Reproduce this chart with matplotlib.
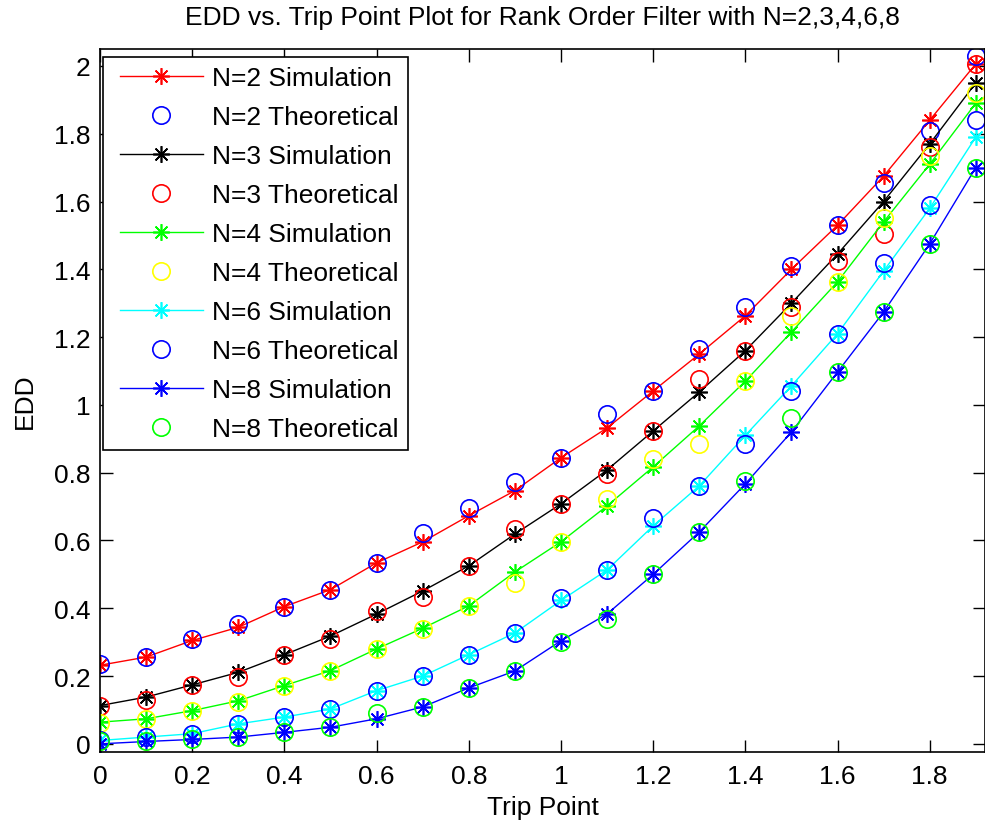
import numpy as np
import matplotlib
matplotlib.use('Agg')
import matplotlib.pyplot as plt
from matplotlib.ticker import FixedLocator, FuncFormatter
from matplotlib.legend_handler import HandlerLine2D
from matplotlib.lines import Line2D

plt.rcParams['font.family'] = ['Liberation Sans', 'DejaVu Sans']

# trip point values
trip = [0.0, 0.1, 0.2, 0.3, 0.4, 0.5, 0.6, 0.7, 0.8, 0.9,
        1.0, 1.1, 1.2, 1.3, 1.4, 1.5, 1.6, 1.7, 1.8, 1.9]

# EDD
n2_sim = [0.232, 0.256, 0.305, 0.344, 0.405, 0.455, 0.534, 0.596, 0.673, 0.747,
          0.844, 0.932, 1.041, 1.150, 1.263, 1.400, 1.530, 1.675, 1.840, 2.006]
n2_theo = [0.236, 0.256, 0.310, 0.354, 0.405, 0.455, 0.534, 0.622, 0.696, 0.773,
           0.844, 0.973, 1.041, 1.165, 1.290, 1.410, 1.530, 1.655, 1.809, 2.030]
n3_sim = [0.113, 0.138, 0.174, 0.211, 0.263, 0.318, 0.383, 0.451, 0.525, 0.619,
          0.708, 0.808, 0.923, 1.038, 1.160, 1.300, 1.445, 1.600, 1.770, 1.950]
n3_theo = [0.113, 0.128, 0.174, 0.197, 0.263, 0.310, 0.393, 0.434, 0.525, 0.634,
           0.708, 0.796, 0.923, 1.075, 1.160, 1.290, 1.425, 1.505, 1.760, 2.006]
n4_sim = [0.064, 0.074, 0.098, 0.127, 0.172, 0.216, 0.280, 0.341, 0.407, 0.507,
          0.596, 0.702, 0.817, 0.938, 1.070, 1.215, 1.363, 1.540, 1.710, 1.890]
n4_theo = [0.061, 0.074, 0.098, 0.123, 0.172, 0.216, 0.280, 0.340, 0.407, 0.475,
           0.596, 0.723, 0.840, 0.885, 1.070, 1.263, 1.363, 1.550, 1.735, 1.920]
n6_sim = [0.010, 0.020, 0.030, 0.059, 0.079, 0.103, 0.157, 0.200, 0.263, 0.327,
          0.423, 0.513, 0.643, 0.761, 0.910, 1.056, 1.210, 1.395, 1.580, 1.790]
n6_theo = [0.010, 0.020, 0.030, 0.059, 0.079, 0.103, 0.157, 0.200, 0.263, 0.327,
           0.431, 0.513, 0.667, 0.761, 0.885, 1.040, 1.210, 1.420, 1.590, 1.840]
n8_sim = [0.000, 0.007, 0.013, 0.020, 0.034, 0.049, 0.074, 0.109, 0.165, 0.215,
          0.304, 0.383, 0.500, 0.625, 0.767, 0.920, 1.097, 1.274, 1.475, 1.700]
n8_theo = [0.008, 0.007, 0.013, 0.020, 0.034, 0.049, 0.091, 0.109, 0.165, 0.215,
           0.300, 0.369, 0.500, 0.625, 0.775, 0.960, 1.097, 1.274, 1.475, 1.700]

series = [
    ('N=2', n2_sim, n2_theo, 'r', 'b'),
    ('N=3', n3_sim, n3_theo, 'k', 'r'),
    ('N=4', n4_sim, n4_theo, '#00ff00', '#ffff00'),
    ('N=6', n6_sim, n6_theo, '#00ffff', 'b'),
    ('N=8', n8_sim, n8_theo, 'b', '#00ff00'),
]

fs = 19
fig = plt.figure(figsize=(9.85, 8.28), dpi=100)
ax = fig.add_axes([100 / 985, 1 - 753 / 828, 885 / 985, 703 / 828])

# asterisk marker like MATLAB '*'
star = (8, 2, 0)
for name, sim, theo, c_sim, c_theo in series:
    ax.plot(trip, sim, color=c_sim, lw=1, marker=star, ms=12, mew=1.2,
            label=f'{name} Simulation')
    ax.plot(trip, theo, ls='none', marker='o', ms=12.5, mfc='none', mec=c_theo,
            mew=1.2, label=f'{name} Theoretical')

ax.set_xlim(0, 1.92)
ax.set_ylim(-0.024, 2.05)

fmt = FuncFormatter(lambda v, p: f'{v:.1f}'.rstrip('0').rstrip('.') if abs(v) > 1e-9 else '0')
ax.xaxis.set_major_locator(FixedLocator(np.arange(0, 1.81, 0.2)))
ax.yaxis.set_major_locator(FixedLocator(np.arange(0, 2.01, 0.2)))
ax.xaxis.set_major_formatter(fmt)
ax.yaxis.set_major_formatter(fmt)
ax.tick_params(direction='in', length=9, width=1, top=True, right=True,
               labelsize=fs, pad=7)
ax.tick_params(axis='x', pad=9)
for s in ax.spines.values():
    s.set_linewidth(1.2)

ax.set_title('EDD vs. Trip Point Plot for Rank Order Filter with N=2,3,4,6,8',
             fontsize=fs, pad=18)
ax.set_xlabel('Trip Point', fontsize=fs, labelpad=5)
ax.set_ylabel('EDD', fontsize=fs, labelpad=12)

leg = ax.legend(loc='upper left', bbox_to_anchor=(3 / 885, 1 - 8 / 703),
                borderaxespad=0, fontsize=fs, frameon=True, fancybox=False,
                handlelength=3.45, handletextpad=0.34, labelspacing=0.57,
                borderpad=0.34, framealpha=1,
                handler_map={Line2D: HandlerLine2D(xpad=0.3)})
leg.get_frame().set_edgecolor('black')
leg.get_frame().set_linewidth(1.2)

fig.savefig('out.png', dpi=100)
